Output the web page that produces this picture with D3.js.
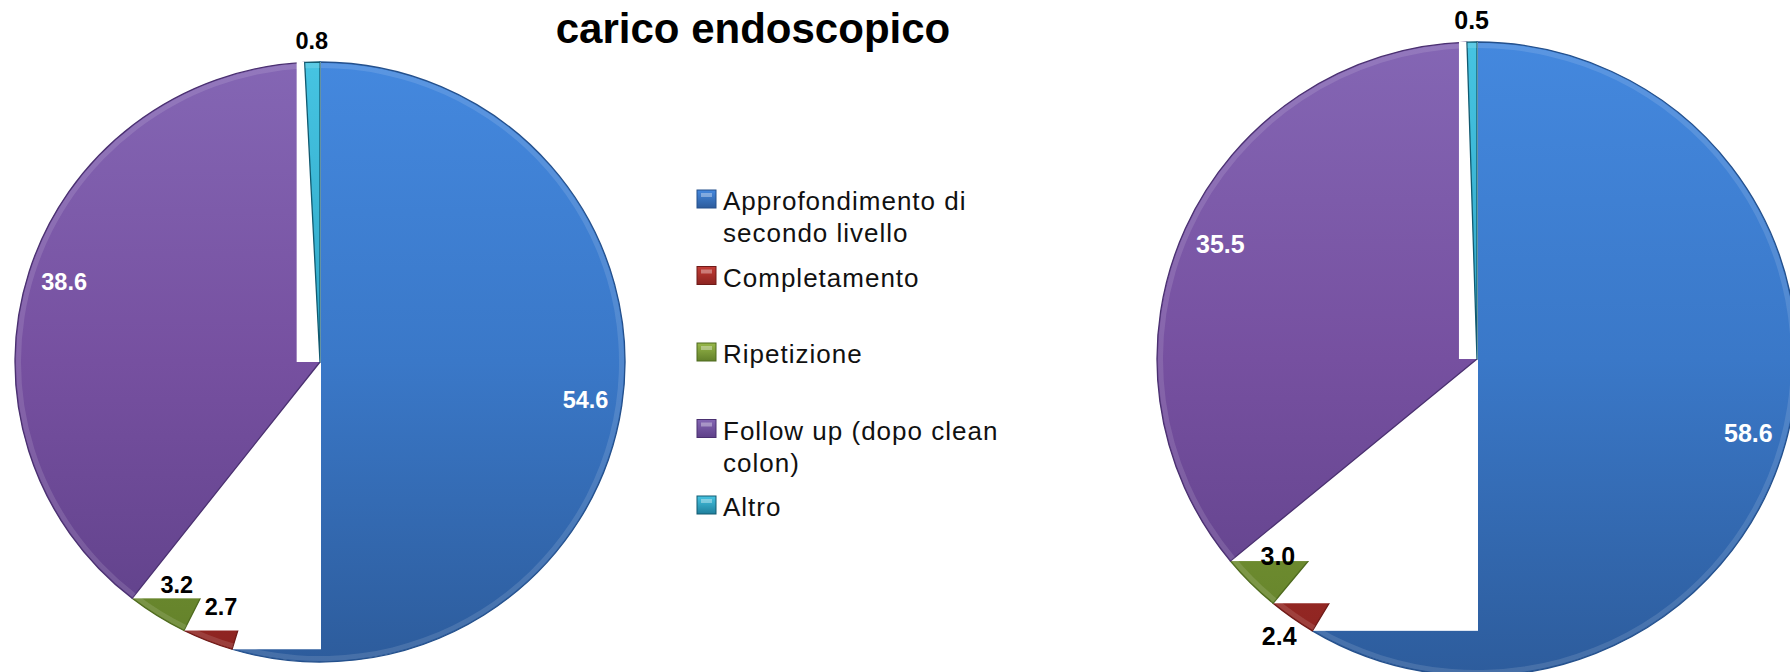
<!DOCTYPE html>
<html>
<head>
<meta charset="utf-8">
<script src="https://cdn.jsdelivr.net/npm/d3@7"></script>
<style>
  html, body { margin: 0; padding: 0; background: #ffffff; }
  svg { display: block; }
</style>
</head>
<body>
<svg id="chart" width="1790" height="672"></svg>
<script>
// ---- data ----
const title = "carico endoscopico";
const categories = [
  "Approfondimento di secondo livello",
  "Completamento",
  "Ripetizione",
  "Follow up (dopo clean colon)",
  "Altro"
];
const legendLines = [
  ["Approfondimento di", "secondo livello"],
  ["Completamento"],
  ["Ripetizione"],
  ["Follow up (dopo clean", "colon)"],
  ["Altro"]
];
const valuesLeft  = [54.6, 2.7, 3.2, 38.6, 0.8];
const valuesRight = [58.6, 2.4, 3.0, 35.5, 0.5];
// which value labels sit just outside the rim
const outsideLeft  = [false, false, false, false, true];
const outsideRight = [false, true,  false, false, true];

// ---- styles ----
const palette = [
  { top: "#4488de", mid: "#3a78c8", bottom: "#2d5c9c", edge: "#24508c" },
  { top: "#c23c36", mid: "#a8302c", bottom: "#8c2420", edge: "#6e1a18" },
  { top: "#98b84a", mid: "#7e9c36", bottom: "#62802a", edge: "#4e6a1e" },
  { top: "#8466b4", mid: "#7650a0", bottom: "#5e4088", edge: "#4a3070" },
  { top: "#46c4e2", mid: "#2ea6c6", bottom: "#1f7f9c", edge: "#125a70" }
];

const svg = d3.select("#chart");
const defs = svg.append("defs");

const pies = [
  { id: "l", values: valuesLeft,  outside: outsideLeft,  cx: 320,  cy: 362, r: 305, ry: 300, font: 23.5 },
  { id: "r", values: valuesRight, outside: outsideRight, cx: 1477, cy: 359, r: 320, ry: 317, font: 25 }
];

const pie = d3.pie().sort(null).value(d => d);
const fmt = d3.format(".1f");
const padLeft = 8, padRight = 1;

pies.forEach(p => {
  // vertical shading gradients spanning the whole disc
  palette.forEach((c, i) => {
    const g = defs.append("linearGradient")
      .attr("id", `grad-${p.id}-${i}`)
      .attr("gradientUnits", "userSpaceOnUse")
      .attr("x1", 0).attr("y1", -p.r).attr("x2", 0).attr("y2", p.r);
    g.append("stop").attr("offset", "0%").attr("stop-color", c.top);
    g.append("stop").attr("offset", "50%").attr("stop-color", c.mid);
    g.append("stop").attr("offset", "100%").attr("stop-color", c.bottom);
  });

  const arc = d3.arc().innerRadius(0).outerRadius(p.r);
  const rim = d3.arc().innerRadius(p.r - 6).outerRadius(p.r - 1);
  const arcs = pie(p.values);
  const outer = svg.append("g").attr("transform", `translate(${p.cx},${p.cy})`);
  const g = outer.append("g").attr("transform", `scale(1,${p.ry / p.r})`);

  // each slice is laid down on its own opaque tile, in series order
  arcs.forEach((a, i) => {
    const tile = g.append("rect").attr("fill", "#ffffff");
    const path = g.append("path")
      .attr("d", arc(a))
      .attr("fill", `url(#grad-${p.id}-${i})`)
      .attr("stroke", palette[i].edge)
      .attr("stroke-width", 1.3)
      .attr("stroke-linejoin", "round");
    const bb = path.node().getBBox();
    tile.attr("x", bb.x - padLeft).attr("y", bb.y)
        .attr("width", bb.width + padLeft + padRight).attr("height", bb.height);
    // soft highlight along the rim
    g.append("path")
      .attr("d", rim(a))
      .attr("fill", "#ffffff")
      .attr("opacity", 0.12);
  });

  // value labels
  arcs.forEach((a, i) => {
    const mid = (a.startAngle + a.endAngle) / 2;
    const k = p.outside[i] ? 1.07 : 0.88;
    const x = Math.sin(mid) * p.r * k;
    const y = -Math.cos(mid) * p.ry * k;
    outer.append("text")
      .attr("x", x).attr("y", y)
      .attr("text-anchor", "middle")
      .attr("dominant-baseline", "central")
      .attr("font-family", "Liberation Sans, Arial, sans-serif")
      .attr("font-weight", "bold")
      .attr("font-size", p.font)
      .attr("fill", a.data > 10 ? "#ffffff" : "#000000")
      .text(fmt(a.data));
  });
});

// ---- title ----
svg.append("text")
  .attr("x", 753).attr("y", 43)
  .attr("text-anchor", "middle")
  .attr("font-family", "Liberation Sans, Arial, sans-serif")
  .attr("font-weight", "bold")
  .attr("font-size", 42)
  .attr("fill", "#000000")
  .text(title);

// ---- legend ----
const ly = d3.scalePoint().domain(categories).range([210, 516]);
const legend = svg.append("g");
categories.forEach((cat, i) => {
  const base = ly(cat);
  const c = palette[i];
  const lg = defs.append("linearGradient")
    .attr("id", `leg-${i}`).attr("x1", 0).attr("y1", 0).attr("x2", 0).attr("y2", 1);
  lg.append("stop").attr("offset", "0%").attr("stop-color", c.top);
  lg.append("stop").attr("offset", "100%").attr("stop-color", c.bottom);
  legend.append("rect")
    .attr("x", 697).attr("y", base - 20)
    .attr("width", 19).attr("height", 18)
    .attr("fill", `url(#leg-${i})`)
    .attr("stroke", c.edge).attr("stroke-width", 1);
  legend.append("rect")
    .attr("x", 701).attr("y", base - 17)
    .attr("width", 11).attr("height", 4)
    .attr("fill", "#ffffff").attr("opacity", 0.35);
  const t = legend.append("text")
    .attr("x", 723).attr("y", base)
    .attr("font-family", "Liberation Sans, Arial, sans-serif")
    .attr("font-size", 26)
    .attr("letter-spacing", 1)
    .attr("fill", "#111111");
  legendLines[i].forEach((line, k) => {
    t.append("tspan").attr("x", 723).attr("y", base + k * 32).text(line);
  });
});
</script>
</body>
</html>
